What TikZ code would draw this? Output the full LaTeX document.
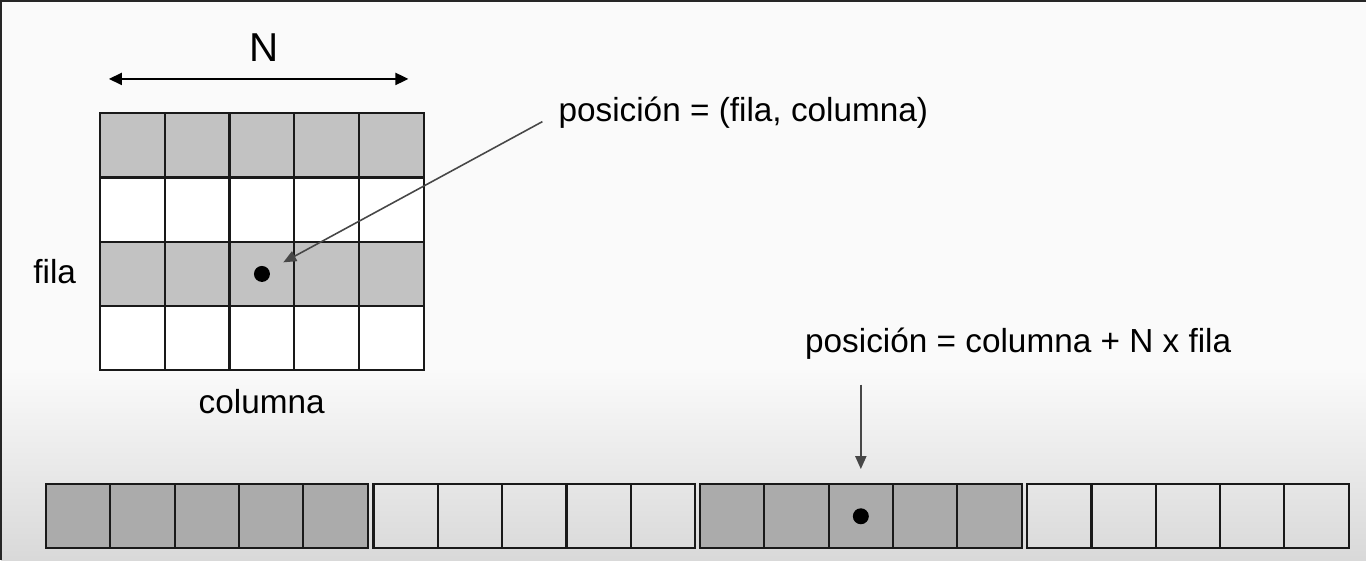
\documentclass[tikz,border=0pt]{standalone}
\usepackage{fontspec}
\setmainfont{Liberation Sans}
\usepackage{xcolor}
\usetikzlibrary{arrows.meta}
\definecolor{gridgrey}{HTML}{C2C2C2}
\definecolor{stripgrey}{HTML}{ABABAB}

\begin{document}
\begin{tikzpicture}[x=0.02cm,y=-0.02cm,
  cell/.style={draw=black!90,line width=1.2pt,inner sep=0pt,minimum width=1.292cm,minimum height=1.288cm},
  txt/.style={inner sep=0pt,text=black,font=\fontsize{19}{23}\selectfont},
  dot/.style={circle,fill=black,inner sep=0pt,minimum size=0.32cm},
  pointer/.style={-{Triangle[length=0.26cm,width=0.22cm]},black!72,line width=0.9pt}]
  % background
  \fill[black!2] (0,0) rectangle (1367,560);
  \shade[top color=black!2,bottom color=black!15] (0,370) rectangle (1367,560);
  \draw[black!85,line width=1.2pt] (0,560) -- (0,0) -- (1367,0);
  \useasboundingbox (0,0) rectangle (1367,560);

  % matrix
  \foreach \r/\f in {0/gridgrey,1/white,2/gridgrey,3/white}
    \foreach \c in {0,...,4}
      \node[cell,fill=\f] (g-\r-\c) at ({131.7+64.8*\c},{144.5+64.4*\r}) {};

  % vector
  \foreach \b/\x/\f in {1/45/stripgrey,2/373/none,3/700/stripgrey,4/1027.5/none}
    \foreach \c in {0,...,4}
      \node[cell,fill=\f] (s-\b-\c) at ({\x+32.3+64.4*\c},516) {};

  \node[dot] (d1) at (g-2-2) {};
  \node[dot] (d2) at (s-3-2) {};

  \node[txt,font=\fontsize{23}{27}\selectfont,anchor=base] (N) at (263,61) {N};
  \node[txt,anchor=base west] (fila) at (32,283) {fila};
  \node[txt,anchor=base] (columna) at (261,413) {columna};
  \node[txt,anchor=base west] (pos1) at (558,121) {posición = (fila, columna)};
  \node[txt,anchor=base west] (pos2) at (805,352) {posición = columna + N x fila};

  \coordinate (nl) at (108,78);
  \coordinate (nr) at (408,78);
  \draw[{Triangle[length=0.26cm,width=0.24cm]}-{Triangle[length=0.26cm,width=0.24cm]},line width=1.2pt] (nl) -- (nr);
  \draw[pointer,shorten <=0.36cm,shorten >=0.32cm] (pos1.west) -- (d1);
  \draw[pointer,line width=1.1pt,shorten <=0.5cm,shorten >=0.28cm] (pos2.south -| s-3-2) -- (s-3-2.north);
  % \draw (pos2.south) -- (d2);
\end{tikzpicture}
\end{document}
